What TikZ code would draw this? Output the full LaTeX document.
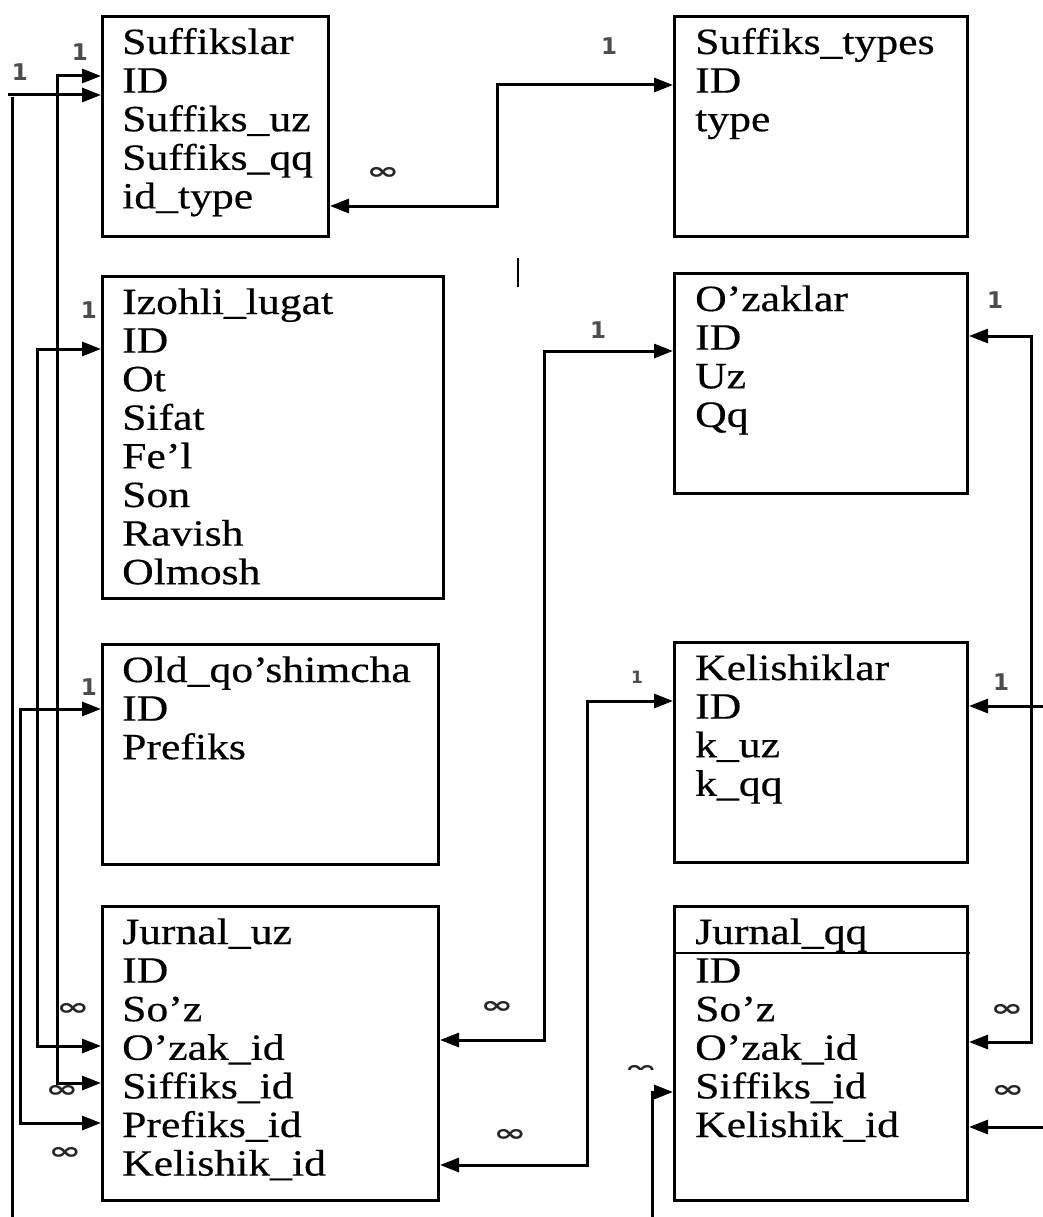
\documentclass[tikz,border=0pt]{standalone}
\usepackage{fontspec}
\setmainfont{Liberation Serif}[FakeStretch=1.18,FakeBold=0.4]
\newfontfamily\lblfont{DejaVu Sans}
\newfontfamily\symfont{DejaVu Sans}
\usetikzlibrary{arrows.meta}
\newcommand{\tblfields}[4]{%
  \foreach \t [count=\i from 0] in {#4} {%
    \node[fld] (#1-\i) at (#2, #3+39+38.6*\i) {\t};}}
\begin{document}
\begin{tikzpicture}[x=1pt,y=-1pt,
  tbl/.style={draw, line width=3pt, inner sep=0pt, anchor=north west},
  fld/.style={anchor=base west, inner sep=0pt, font=\fontsize{37}{39}\selectfont},
  conn/.style={line width=3pt, -{Triangle[length=19pt,width=14pt]}},
  conn2/.style={line width=3pt, {Triangle[length=19pt,width=14pt]}-{Triangle[length=19pt,width=14pt]}},
  plain/.style={line width=3pt},
  one/.style={font=\fontsize{23}{23}\lblfont\bfseries\selectfont, text=black!70, inner sep=0pt},
  many/.style={font=\fontsize{28}{28}\symfont\bfseries\selectfont, xscale=1.4, yscale=0.85, text=black!85, inner sep=0pt}]
\useasboundingbox (0,0) rectangle (1043,1217);
\fill[white] (0,0) rectangle (1043,1217);

% boxes
\node[tbl, minimum width=226pt, minimum height=220pt] (suff) at (101,15) {};
\node[tbl, minimum width=293pt, minimum height=220pt] (styp) at (673,15) {};
\node[tbl, minimum width=341pt, minimum height=322pt] (izo) at (101,275) {};
\node[tbl, minimum width=293pt, minimum height=220pt] (ozak) at (673,272) {};
\node[tbl, minimum width=336pt, minimum height=220pt] (old) at (101,643) {};
\node[tbl, minimum width=293pt, minimum height=220pt] (kel) at (673,641) {};
\node[tbl, minimum width=336pt, minimum height=294pt] (juz) at (101,905) {};
\node[tbl, minimum width=293pt, minimum height=294pt] (jqq) at (673,905) {};

% fields
\tblfields{suff}{122}{15}{Suffikslar,ID,Suffiks\_uz,Suffiks\_qq,id\_type}
\tblfields{styp}{695}{15}{Suffiks\_types,ID,type}
\tblfields{izo}{122}{275}{Izohli\_lugat,ID,Ot,Sifat,Fe’l,Son,Ravish,Olmosh}
\tblfields{ozak}{695}{272}{O’zaklar,ID,Uz,Qq}
\tblfields{old}{122}{643}{Old\_qo’shimcha,ID,Prefiks}
\tblfields{kel}{695}{641}{Kelishiklar,ID,k\_uz,k\_qq}
\tblfields{juz}{122}{905}{Jurnal\_uz,ID,So’z,O’zak\_id,Siffiks\_id,Prefiks\_id,Kelishik\_id}
\tblfields{jqq}{695}{905}{Jurnal\_qq,ID,So’z,O’zak\_id,Siffiks\_id,Kelishik\_id}

% Jurnal_qq header rule
\coordinate (hqL) at (673,953);
\coordinate (hqR) at (970,953);
\draw[line width=2.2pt] (hqL) -- (hqR);

% small stray tick
\coordinate (tk1) at (518,258);
\coordinate (tk2) at (518,287);
\draw[line width=2.4pt] (tk1) -- (tk2);

% helper coordinates
\coordinate (aBot) at (12,1217);
\coordinate (aTop) at (12,97);
\coordinate (aY) at (8,95);
\coordinate (bY) at (0,76);
\coordinate (bT) at (57,1083);
\coordinate (cY) at (0,349);
\coordinate (cT) at (37,1046);
\coordinate (dY) at (0,709);
\coordinate (dT) at (20,1123);
\coordinate (eY) at (0,206);
\coordinate (eT) at (497,85);
\coordinate (fY) at (0,351);
\coordinate (fT) at (544,1040);
\coordinate (gY) at (0,701);
\coordinate (gT) at (587,1165);
\coordinate (hY) at (0,336);
\coordinate (hT) at (1031,1042);
\coordinate (iS) at (1043,706);
\coordinate (jS) at (1043,1127);
\coordinate (kS) at (652,1217);
\coordinate (kY) at (0,1092);

% connectors
\draw[plain] (aBot) -- (aTop);
\draw[conn] (aY) -- (suff.west |- aY);
\draw[conn2] (suff.west |- bY) -| (bT) -- (juz.west |- bT);
\draw[conn2] (izo.west |- cY) -| (cT) -- (juz.west |- cT);
\draw[conn2] (old.west |- dY) -| (dT) -- (juz.west |- dT);
\draw[conn2] (suff.east |- eY) -| (eT) -- (styp.west |- eT);
\draw[conn2] (ozak.west |- fY) -| (fT) -- (juz.east |- fT);
\draw[conn2] (kel.west |- gY) -| (gT) -- (juz.east |- gT);
\draw[conn2] (ozak.east |- hY) -| (hT) -- (jqq.east |- hT);
\draw[conn] (iS) -- (kel.east |- iS);
\draw[conn] (jS) -- (jqq.east |- jS);
\draw[conn] (kS) |- (jqq.west |- kY);

% cardinality labels
\node[one] (o1) at (20,72) {1};
\node[one] (o2) at (80,52) {1};
\node[one] (o3) at (89,310) {1};
\node[one] (o4) at (89,687) {1};
\node[one] (o5) at (609,46) {1};
\node[one] (o6) at (598,330) {1};
\node[one, font=\fontsize{17}{17}\lblfont\bfseries\selectfont] (o7) at (637,677) {1};
\node[one] (o8) at (995,300) {1};
\node[one] (o9) at (1001,682) {1};

\node[many] (m1) at (383,173) {∞};
\node[many] (m2) at (62,1091) {∞};
\node[many] (m3) at (73,1009) {∞};
\node[many] (m4) at (65,1153) {∞};
\node[many] (m5) at (497,1007) {∞};
\node[many] (m6) at (510,1135) {∞};
\node[many] (m7) at (1007,1010) {∞};
\node[many] (m8) at (1008,1091) {∞};
\begin{scope}
  \clip (622,1060) rectangle (660,1069);
  \node[many] (m9) at (641,1071) {∞};
\end{scope}
\end{tikzpicture}
\end{document}
